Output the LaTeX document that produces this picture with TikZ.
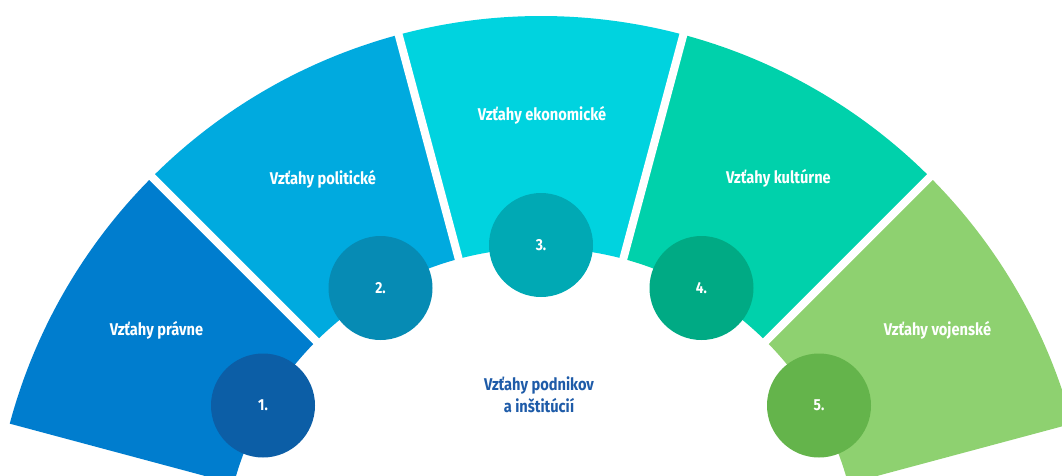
\documentclass[tikz,border=0pt]{standalone}
\usepackage{fontspec}
\setmainfont{Fira Sans}
\newfontfamily\condfont[FakeStretch=0.86]{Fira Sans}
\definecolor{segA}{HTML}{007DCE}
\definecolor{segB}{HTML}{00AADF}
\definecolor{segC}{HTML}{00D3DF}
\definecolor{segD}{HTML}{00D1AB}
\definecolor{segE}{HTML}{8ED170}
\definecolor{cirA}{HTML}{0C5EA6}
\definecolor{cirB}{HTML}{068BB4}
\definecolor{cirC}{HTML}{00A9B4}
\definecolor{cirD}{HTML}{00AA84}
\definecolor{cirE}{HTML}{64B44B}
\definecolor{midtext}{HTML}{1E5BA8}
\tikzset{
  lbl/.style={text=white, font=\condfont\bfseries\fontsize{17}{20}\selectfont, inner sep=0pt},
  numdisc/.style={circle, minimum size=104pt, inner sep=0pt, text=white, font=\condfont\bfseries\fontsize{16}{18}\selectfont},
  gapline/.style={white, line width=8pt}
}
\begin{document}
\begin{tikzpicture}[x=1pt,y=1pt]
\useasboundingbox (0,0) rectangle (1062,475);
\clip (0,0) rectangle (1062,475);
\coordinate (O) at (541,-91);
% sectors
\foreach \a/\col in {135/segA,105/segB,75/segC,45/segD,15/segE}{
  \pgfmathsetmacro{\b}{\a+30}
  \fill[\col] ([shift={(\a:318)}]O) arc[start angle=\a, end angle=\b, radius=318]
     -- ([shift={(\b:550)}]O) arc[start angle=\b, end angle=\a, radius=550] -- cycle;
}
% gaps
\foreach \a in {45,75,105,135}{
  \draw[gapline] ([shift={(\a:300)}]O) -- ([shift={(\a:570)}]O);
}
% labels
\node[lbl] (l1) at (156.5,145) {Vzťahy právne};
\node[lbl] (l2) at (323,296) {Vzťahy politické};
\node[lbl] (l3) at (542,360) {Vzťahy ekonomické};
\node[lbl] (l4) at (778.5,297) {Vzťahy kultúrne};
\node[lbl] (l5) at (937.5,145) {Vzťahy vojenské};
% number discs
\node[numdisc, fill=cirA] (n1) at ([shift={(150:321)}]O) {1.};
\node[numdisc, fill=cirB] (n2) at ([shift={(120:321)}]O) {2.};
\node[numdisc, fill=cirC] (n3) at ([shift={(90:321)}]O) {3.};
\node[numdisc, fill=cirD] (n4) at ([shift={(60:321)}]O) {4.};
\node[numdisc, fill=cirE] (n5) at ([shift={(30:321)}]O) {5.};
% centre text
\node[text=midtext, font=\condfont\bfseries\fontsize{17}{22}\selectfont, align=center, inner sep=0pt] (mid) at (539,80) {Vzťahy podnikov\\a inštitúcií};
\end{tikzpicture}
\end{document}
